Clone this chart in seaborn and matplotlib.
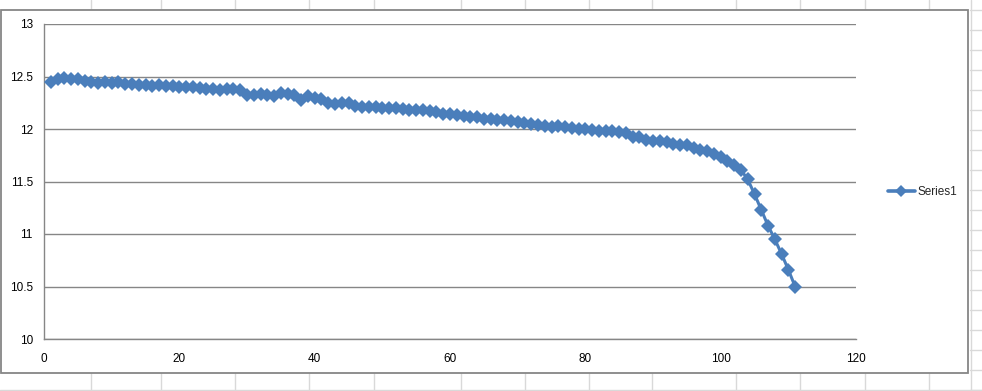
import matplotlib
matplotlib.use("Agg")
import matplotlib.pyplot as plt
from matplotlib.lines import Line2D
from matplotlib.patches import Rectangle
import seaborn as sns
import pandas as pd

# ---- data ----
x_values = list(range(1, 112))
y_values = [
    12.45, 12.48, 12.49, 12.48, 12.48, 12.46, 12.45, 12.44, 12.45, 12.44,
    12.45, 12.43, 12.43, 12.42, 12.42, 12.41, 12.42, 12.41, 12.41, 12.40,
    12.40, 12.40, 12.39, 12.38, 12.38, 12.37, 12.38, 12.38, 12.37, 12.32,
    12.32, 12.33, 12.32, 12.31, 12.34, 12.33, 12.32, 12.28, 12.31, 12.30,
    12.29, 12.25, 12.24, 12.25, 12.25, 12.22, 12.21, 12.21, 12.21, 12.20,
    12.20, 12.20, 12.19, 12.18, 12.18, 12.18, 12.17, 12.16, 12.14, 12.14,
    12.13, 12.12, 12.11, 12.11, 12.10, 12.10, 12.09, 12.09, 12.08, 12.07,
    12.06, 12.05, 12.04, 12.03, 12.02, 12.03, 12.02, 12.01, 12.00, 12.00,
    11.99, 11.98, 11.98, 11.98, 11.97, 11.96, 11.92, 11.92, 11.90, 11.89,
    11.89, 11.88, 11.86, 11.85, 11.85, 11.82, 11.80, 11.79, 11.76, 11.73,
    11.70, 11.66, 11.61, 11.52, 11.38, 11.23, 11.08, 10.95, 10.81, 10.66,
    10.50,
]
series_name = "Series1"
x_ticks = [0, 20, 40, 60, 80, 100, 120]
y_ticks = [10, 10.5, 11, 11.5, 12, 12.5, 13]
y_tick_labels = ["10", "10.5", "11", "11.5", "12", "12.5", "13"]

df = pd.DataFrame({"x": x_values, "y": y_values, "series": series_name})

sns.set_style("white")
plt.rcParams["font.family"] = ["Liberation Sans Narrow", "Liberation Sans", "DejaVu Sans"]

W, H = 982, 391
fig = plt.figure(figsize=(W / 100, H / 100), dpi=100)
fig.patch.set_facecolor("white")

def fx(px):
    return px / W

def fy(py):
    return 1 - py / H

# spreadsheet grid behind the chart
grid_c = "#d9d9d9"
col_lines = [91, 161, 235, 309, 374, 461, 525, 589, 652, 736, 800, 865, 929]
for cx in col_lines:
    fig.add_artist(Line2D([fx(cx), fx(cx)], [fy(0), fy(10)], color=grid_c, lw=1, zorder=-3))
    fig.add_artist(Line2D([fx(cx), fx(cx)], [fy(373), fy(391)], color=grid_c, lw=1, zorder=-3))
fig.add_artist(Line2D([fx(970.5), fx(970.5)], [fy(0), fy(391)], color=grid_c, lw=1, zorder=-3))
for ry in range(10, 391, 20):
    fig.add_artist(Line2D([fx(970), fx(982)], [fy(ry), fy(ry)], color=grid_c, lw=1, zorder=-3))
fig.add_artist(Line2D([fx(0), fx(982)], [fy(389.5), fy(389.5)], color=grid_c, lw=1, zorder=-3))

# chart area
fig.add_artist(Rectangle((fx(0.5), fy(372.7)), fx(967.8), (372.7 - 10.3) / H,
                         facecolor="white", edgecolor="#868686", lw=1.3, zorder=-2))

ax = fig.add_axes([fx(44), fy(339), fx(856) - fx(44), (339 - 24) / H])
ax.patch.set_alpha(0)

color = "#4a7ebb"
sns.lineplot(data=df, x="x", y="y", hue="series", palette=[color], marker="D",
             markersize=6.8, markeredgewidth=0, linewidth=2.2, ax=ax, legend=False, zorder=3)

ax.set_xlim(0, 120)
ax.set_ylim(10, 13)
ax.set_xticks(x_ticks)
ax.set_xticklabels([str(t) for t in x_ticks])
ax.set_yticks(y_ticks)
ax.set_yticklabels(y_tick_labels)
ax.set_xlabel("")
ax.set_ylabel("")

ax.yaxis.grid(True, color="#868686", lw=1.0)
ax.xaxis.grid(False)
ax.set_axisbelow(True)

for s in ["top", "right"]:
    ax.spines[s].set_visible(False)
for s in ["left", "bottom"]:
    ax.spines[s].set_visible(True)
    ax.spines[s].set_color("#868686")
    ax.spines[s].set_linewidth(1.0)

ax.tick_params(axis="both", which="major", direction="out", length=4, width=1,
               color="#868686", labelsize=8.5, labelcolor="black", pad=3)
ax.tick_params(axis="x", pad=6)
ax.tick_params(axis="y", pad=4)

# legend
handle = Line2D([], [], color=color, lw=2.6, marker="D", markersize=6.5, markeredgewidth=0)
fig.legend([handle], [series_name], loc="center left", bbox_to_anchor=(fx(883), fy(192)),
           frameon=False, fontsize=8.5, handlelength=2.3, handletextpad=0.2, borderaxespad=0)

fig.savefig("out.png", dpi=100, facecolor="white")
